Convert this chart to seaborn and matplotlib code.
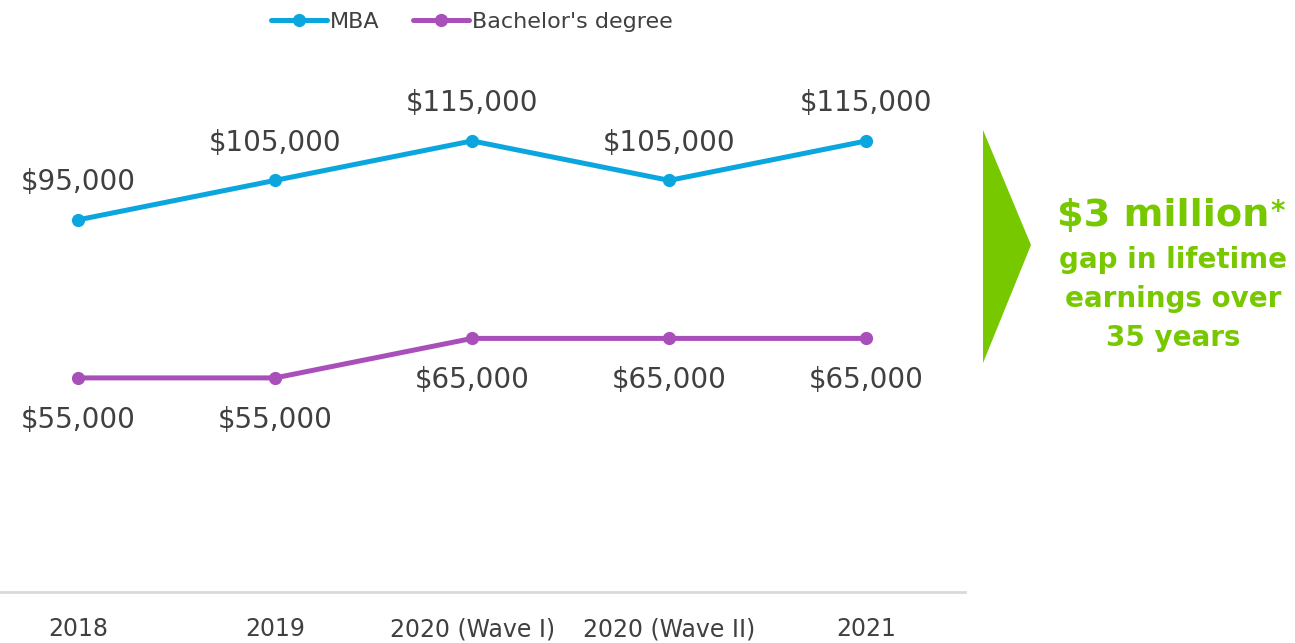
import pandas as pd
import matplotlib.pyplot as plt
import seaborn as sns
from matplotlib.patches import Polygon

years = ["2018", "2019", "2020 (Wave I)", "2020 (Wave II)", "2021"]
mba = [95000, 105000, 115000, 105000, 115000]
bachelor = [55000, 55000, 65000, 65000, 65000]
series_names = ["MBA", "Bachelor's degree"]
colors = ["#0AA6DD", "#A94FBA"]
green = "#78C800"
text_grey = "#404040"

df = pd.concat(
    [
        pd.DataFrame({"year": years, "salary": mba, "degree": series_names[0]}),
        pd.DataFrame({"year": years, "salary": bachelor, "degree": series_names[1]}),
    ],
    ignore_index=True,
)

sns.set_style("white")
plt.rcParams["font.family"] = ["DejaVu Sans"]

W, H = 1295, 643
fig = plt.figure(figsize=(W / 100, H / 100), dpi=100)
ax = fig.add_axes([0, (H - 592) / H, 965 / W, 553 / H])

sns.lineplot(
    data=df, x="year", y="salary", hue="degree", palette=colors,
    marker="o", markersize=9.5, markeredgewidth=0, linewidth=3.6,
    sort=False, ax=ax,
)

# value labels: MBA above, bachelor below
for i, v in enumerate(mba):
    ax.annotate(f"${v:,}", (i, v), xytext=(0, 27), textcoords="offset points",
                ha="center", va="center", fontsize=20, color=text_grey)
for i, v in enumerate(bachelor):
    ax.annotate(f"${v:,}", (i, v), xytext=(0, -30), textcoords="offset points",
                ha="center", va="center", fontsize=20, color=text_grey)

ax.set_xlim(-0.395, 4.5)
ax.set_ylim(800, 140800)
ax.set_xlabel("")
ax.set_ylabel("")
ax.set_yticks([])
ax.tick_params(axis="x", length=0, pad=18, labelsize=17, labelcolor=text_grey)
for side in ["top", "left", "right"]:
    ax.spines[side].set_visible(False)
ax.spines["bottom"].set_color("#D9D9D9")
ax.spines["bottom"].set_linewidth(2)

handles, labels = ax.get_legend_handles_labels()
ax.get_legend().remove()
fig.legend(handles, labels, loc="center", bbox_to_anchor=(472 / W, 1 - 22 / H),
           ncol=2, frameon=False, fontsize=16, handlelength=2.5,
           handletextpad=0.15, columnspacing=1.5, labelcolor=text_grey)

# green arrow callout
pts = [(983, 130), (1031, 245), (983, 363)]
fig.patches.append(Polygon([(x / W, 1 - y / H) for x, y in pts], closed=True,
                           transform=fig.transFigure, color=green, lw=0))
fig.text(1163 / W, 1 - 216 / H, "$3 million", ha="center", va="center",
         fontsize=27.5, fontweight="bold", color=green)
fig.text(1270 / W, 1 - 212 / H, "*", ha="left", va="center",
         fontsize=20, fontweight="bold", color=green)
for txt, y in [("gap in lifetime", 260), ("earnings over", 299), ("35 years", 338)]:
    fig.text(1173 / W, 1 - y / H, txt, ha="center", va="center",
             fontsize=20, fontweight="bold", color=green)

fig.savefig("out.png", dpi=100)
